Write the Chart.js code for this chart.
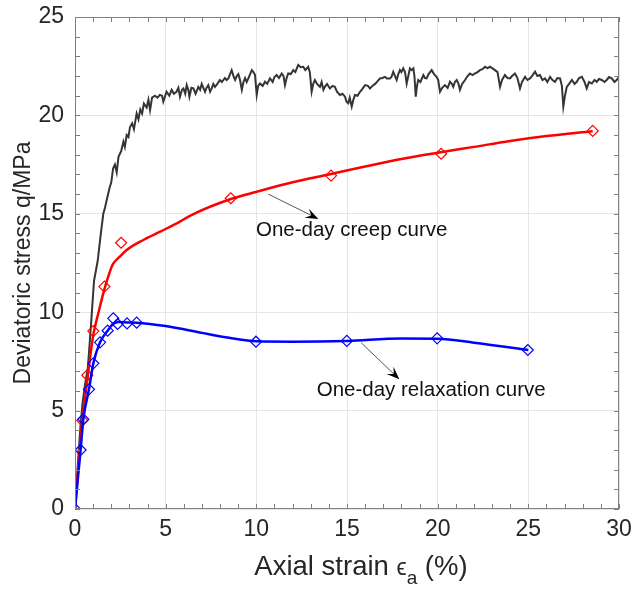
<!DOCTYPE html>
<html>
<head>
<meta charset="utf-8">
<script src="https://cdn.jsdelivr.net/npm/chart.js@4/dist/chart.umd.min.js"></script>
<style>
html,body{margin:0;padding:0;background:#fff;}
canvas{display:block;}
</style>
</head>
<body>
<canvas id="c" width="634" height="592"></canvas>
<script>
// ---- Data ----
// Conventional test (black noisy curve)
const testStrain = [0,0.15,0.3,0.42,0.55,0.7,0.8,0.9,1.05,1.25,1.4,1.56,1.65,1.75,1.9,2.0,2.1,2.2,2.3,2.4,2.55,2.67,2.75,2.85,2.95,3.03,3.15,3.25,3.4,3.5,3.6,3.7,3.8,3.95,4.05,4.14,4.25,4.41,4.55,4.68,4.8,4.87,5.05,5.2,5.33,5.45,5.6,5.7,5.79,5.9,5.98,6.08,6.16,6.25,6.31,6.42,6.53,6.65,6.8,6.9,6.99,7.08,7.17,7.25,7.35,7.45,7.54,7.63,7.72,7.85,7.99,8.1,8.27,8.36,8.46,8.55,8.64,8.74,8.83,8.92,9.01,9.1,9.2,9.29,9.38,9.47,9.56,9.66,9.75,9.84,9.93,10.02,10.1,10.2,10.35,10.48,10.6,10.75,10.9,11.0,11.12,11.25,11.4,11.5,11.58,11.67,11.76,11.9,12.04,12.15,12.31,12.45,12.59,12.7,12.86,12.95,13.05,13.14,13.23,13.35,13.51,13.6,13.7,13.78,13.9,14.06,14.2,14.33,14.45,14.61,14.75,14.89,14.97,15.07,15.15,15.26,15.35,15.44,15.58,15.72,15.85,16.0,16.15,16.27,16.4,16.55,16.7,16.82,16.95,17.1,17.2,17.37,17.45,17.55,17.65,17.74,17.83,17.92,18.0,18.1,18.2,18.29,18.38,18.47,18.56,18.66,18.72,18.79,18.86,18.93,19.05,19.21,19.3,19.39,19.5,19.67,19.8,19.94,20.03,20.13,20.25,20.4,20.55,20.68,20.78,20.86,20.95,21.05,21.15,21.23,21.35,21.51,21.65,21.78,21.92,22.06,22.2,22.33,22.47,22.61,22.75,22.89,23.0,23.16,23.3,23.44,23.55,23.71,23.85,23.99,24.1,24.26,24.4,24.54,24.65,24.82,24.95,25.09,25.2,25.37,25.5,25.64,25.78,25.92,26.05,26.2,26.33,26.47,26.6,26.75,26.85,26.93,27.02,27.12,27.25,27.4,27.55,27.67,27.8,27.95,28.1,28.22,28.35,28.5,28.65,28.77,28.9,29.05,29.2,29.32,29.45,29.6,29.75,29.87,30.0];
const testStress = [0,2.2,4.2,5.4,6.3,7.1,8.3,9.6,11.6,12.6,13.8,15.0,15.3,15.7,16.3,16.6,17.3,17.5,17.1,17.9,18.2,18.66,18.4,19.0,18.9,19.4,19.6,19.3,20.1,19.8,20.3,20.1,20.6,20.4,20.8,20.27,20.9,21.0,20.9,21.04,21.0,20.7,21.2,21.0,21.3,21.1,21.2,21.4,20.95,21.3,21.37,21.1,21.54,21.3,20.95,21.4,21.37,21.1,21.45,21.3,21.6,21.4,21.2,21.4,21.54,21.2,21.37,21.6,21.45,21.6,21.8,21.7,21.9,21.8,21.88,22.1,22.3,22.0,21.8,22.0,22.1,21.8,21.3,21.7,21.9,21.7,21.88,22.1,22.3,22.2,22.05,21.04,21.5,21.62,21.5,21.71,21.6,21.88,21.7,21.95,22.05,21.9,22.13,22.0,21.54,21.9,22.13,22.1,22.3,22.2,22.56,22.45,22.47,22.3,22.47,22.2,21.2,21.6,21.8,21.6,21.45,21.7,21.3,21.45,21.6,21.37,21.5,21.45,21.2,21.04,21.1,20.95,20.7,20.62,20.9,20.45,20.8,21.04,21.0,21.2,21.35,21.54,21.5,21.37,21.5,21.6,21.75,21.88,21.9,21.96,21.88,21.88,21.95,22.22,22.0,21.8,22.1,22.3,22.2,22.39,22.2,21.62,22.0,22.39,22.3,22.39,22.0,20.95,21.5,21.8,21.7,22.05,21.9,21.88,22.1,22.3,22.1,21.96,21.8,21.2,21.4,21.54,21.4,21.71,21.6,21.45,21.7,21.8,21.6,21.3,21.6,21.8,22.0,22.13,22.05,22.13,22.2,22.3,22.35,22.47,22.4,22.47,22.4,22.3,22.2,21.45,21.8,22.05,21.9,21.88,22.0,22.13,21.9,21.37,21.7,21.96,21.8,21.88,22.0,22.22,22.0,22.05,21.8,21.88,21.7,21.96,21.8,21.71,21.9,21.88,21.5,20.45,21.0,21.45,21.6,21.8,21.6,21.71,21.9,21.96,21.7,21.37,21.7,21.62,21.8,21.71,21.85,21.8,21.7,21.8,21.95,21.88,21.7,21.8,21.96];

// One-day creep: measured points (markers) and fitted curve
const creepStrain = [0.4,0.68,1.01,1.62,2.54,8.59,14.12,20.19,28.55];
const creepStress = [4.5,6.8,9.04,11.3,13.53,15.79,16.94,18.05,19.21];
const creepFitStrain = [0,0.2,0.4,0.7,1.0,1.3,1.6,1.9,2.1,2.5,2.85,3.77,4.69,5.79,6.34,8.59,10.02,12,14,16,18,20,22,24,26,28.55];
const creepFitStress = [0,2.3,4.4,6.7,8.8,10.0,11.1,12.0,12.45,12.85,13.16,13.67,14.09,14.6,14.9,15.75,16.12,16.6,17.0,17.4,17.78,18.1,18.4,18.7,18.95,19.2];

// One-day relaxation: measured points (markers) and fitted curve
const relaxStrain = [0,0.31,0.46,0.77,1.01,1.38,1.8,2.11,2.35,2.87,3.4,9.98,14.99,19.97,24.97];
const relaxStress = [0,3.0,4.56,6.08,7.4,8.47,9.06,9.69,9.4,9.43,9.47,8.5,8.54,8.67,8.08];
const relaxFitStrain = [0,0.31,0.46,0.77,1.01,1.38,1.8,2.1,2.4,2.9,3.4,5,7,8.5,10,12,15,18,20,22,25];
const relaxFitStress = [0,3.0,4.56,6.08,7.4,8.47,9.06,9.4,9.5,9.48,9.47,9.3,8.95,8.7,8.52,8.5,8.54,8.66,8.65,8.45,8.08];

// Axis ticks
const xTicks = [0,5,10,15,20,25,30];
const yTicks = [0,5,10,15,20,25];

const pts = (xs, ys) => xs.map((v, i) => ({x: v, y: ys[i]}));
const FONT = "'Liberation Sans', Arial, sans-serif";
const TXT = '#262626';

const framePlugin = {
  id: 'frame',
  afterDraw(chart) {
    const {ctx, chartArea: a, scales: {x, y}} = chart;
    ctx.save();
    ctx.strokeStyle = '#808080';
    ctx.lineWidth = 1;
    ctx.beginPath();
    for (let v = 0; v <= 30; v++) {
      const px = Math.round(x.getPixelForValue(v)) + 0.5;
      ctx.moveTo(px, a.bottom); ctx.lineTo(px, a.bottom - 5);
      ctx.moveTo(px, a.top); ctx.lineTo(px, a.top + 5);
    }
    for (let v = 0; v <= 25; v++) {
      const py = Math.round(y.getPixelForValue(v)) + 0.5;
      ctx.moveTo(a.left, py); ctx.lineTo(a.left + 5, py);
      ctx.moveTo(a.right, py); ctx.lineTo(a.right - 5, py);
    }
    ctx.stroke();
    ctx.strokeRect(Math.round(a.left) + 0.5, Math.round(a.top) + 0.5,
                   Math.round(a.width) - 1, Math.round(a.height) - 1);

    // x-axis title with a true subscript
    const cx = (a.left + a.right) / 2 + 14, baseY = 575;
    const big = '27.5px ' + FONT, small = '19px ' + FONT;
    const parts = [
      {t: 'Axial strain ', f: big, dy: 0},
      {t: 'ϵ', f: '23px ' + FONT, dy: 0},
      {t: 'a', f: small, dy: 9},
      {t: ' (%)', f: big, dy: 0}
    ];
    let total = 0;
    parts.forEach(p => { ctx.font = p.f; p.w = ctx.measureText(p.t).width; total += p.w; });
    let px = cx - total / 2;
    ctx.fillStyle = TXT;
    ctx.textAlign = 'left';
    ctx.textBaseline = 'alphabetic';
    parts.forEach(p => { ctx.font = p.f; ctx.fillText(p.t, px, baseY + p.dy); px += p.w; });
    ctx.restore();
  }
};

const notes = [
  {text: 'One-day creep curve', tx: 9.98, ty: 14.18, ax0: 10.66, ay0: 16.0, ax1: 13.42, ay1: 14.74},
  {text: 'One-day relaxation curve', tx: 13.33, ty: 6.02, ax0: 15.78, ay0: 8.45, ax1: 17.89, ay1: 6.59}
];

const notePlugin = {
  id: 'notes',
  afterDatasetsDraw(chart) {
    const {ctx, scales: {x, y}} = chart;
    ctx.save();
    notes.forEach(n => {
      const x0 = x.getPixelForValue(n.ax0), y0 = y.getPixelForValue(n.ay0);
      const x1 = x.getPixelForValue(n.ax1), y1 = y.getPixelForValue(n.ay1);
      const ang = Math.atan2(y1 - y0, x1 - x0);
      const L = 13, W = 5;
      ctx.strokeStyle = '#555';
      ctx.lineWidth = 1;
      ctx.beginPath();
      ctx.moveTo(x0, y0);
      ctx.lineTo(x1 - Math.cos(ang) * 6, y1 - Math.sin(ang) * 6);
      ctx.stroke();
      ctx.fillStyle = '#000';
      ctx.beginPath();
      const bx = x1 - Math.cos(ang) * L, by = y1 - Math.sin(ang) * L;
      const mx = x1 - Math.cos(ang) * (L * 0.6), my = y1 - Math.sin(ang) * (L * 0.6);
      ctx.moveTo(x1, y1);
      ctx.lineTo(bx + Math.sin(ang) * W, by - Math.cos(ang) * W);
      ctx.lineTo(mx, my);
      ctx.lineTo(bx - Math.sin(ang) * W, by + Math.cos(ang) * W);
      ctx.closePath();
      ctx.fill();
      ctx.fillStyle = '#111';
      ctx.font = '20.5px ' + FONT;
      ctx.textAlign = 'left';
      ctx.textBaseline = 'middle';
      ctx.fillText(n.text, x.getPixelForValue(n.tx), y.getPixelForValue(n.ty));
    });
    ctx.restore();
  }
};

new Chart(document.getElementById('c'), {
  type: 'scatter',
  data: {
    datasets: [
      {
        label: 'One-day relaxation (points)', data: pts(relaxStrain, relaxStress),
        showLine: false, pointStyle: 'rectRot', pointRadius: 5.5, pointBorderWidth: 1.2,
        borderColor: '#0000ff', backgroundColor: 'rgba(0,0,0,0)', order: 0
      },
      {
        label: 'One-day relaxation curve', data: pts(relaxFitStrain, relaxFitStress),
        showLine: true, pointRadius: 0, borderColor: '#0000ff', borderWidth: 2.5,
        cubicInterpolationMode: 'monotone', order: 1
      },
      {
        label: 'One-day creep (points)', data: pts(creepStrain, creepStress),
        showLine: false, pointStyle: 'rectRot', pointRadius: 5.5, pointBorderWidth: 1.2,
        borderColor: '#ff0000', backgroundColor: 'rgba(0,0,0,0)', order: 2
      },
      {
        label: 'One-day creep curve', data: pts(creepFitStrain, creepFitStress),
        showLine: true, pointRadius: 0, borderColor: '#ff0000', borderWidth: 2.5,
        cubicInterpolationMode: 'monotone', order: 3
      },
      {
        label: 'Conventional test', data: pts(testStrain, testStress),
        showLine: true, pointRadius: 0, borderColor: '#353535', borderWidth: 2,
        tension: 0, order: 4
      }
    ]
  },
  options: {
    responsive: false,
    devicePixelRatio: 1,
    animation: false,
    layout: {padding: {top: 17, right: 15, left: 0, bottom: 0}},
    plugins: {legend: {display: false}, tooltip: {enabled: false}},
    scales: {
      x: {
        type: 'linear', min: 0, max: 30,
        afterBuildTicks: s => { s.ticks = xTicks.map(v => ({value: v})); },
        afterFit: s => { s.height = 83; s.paddingLeft = 0; s.paddingRight = 0; },
        grid: {color: '#e6e6e6', drawTicks: false, lineWidth: 1},
        border: {display: false},
        ticks: {padding: 7, color: TXT, font: {family: FONT, size: 23}, maxRotation: 0},
        title: {display: false, text: 'Axial strain ϵa (%)'}
      },
      y: {
        type: 'linear', min: 0, max: 25,
        afterBuildTicks: s => { s.ticks = yTicks.map(v => ({value: v})); },
        afterFit: s => { s.width = 75; s.paddingTop = 0; s.paddingBottom = 0; },
        grid: {color: '#e6e6e6', drawTicks: false, lineWidth: 1},
        border: {display: false},
        ticks: {padding: 11, color: TXT, font: {family: FONT, size: 23}},
        title: {display: true, text: 'Deviatoric stress q/MPa', color: TXT,
                font: {family: FONT, size: 23}, padding: {top: 10, bottom: 0}}
      }
    }
  },
  plugins: [framePlugin, notePlugin]
});
</script>
</body>
</html>
